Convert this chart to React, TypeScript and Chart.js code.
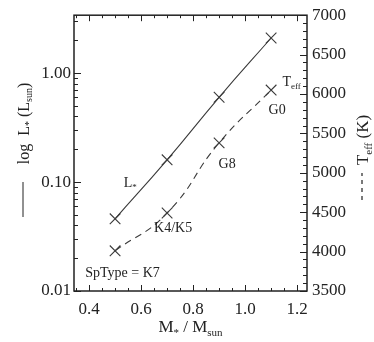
import React, { useEffect, useRef } from "react";
import { Chart, registerables } from "chart.js";

Chart.register(...registerables);

const masses = [0.5, 0.7, 0.9, 1.1];
const luminosity = [0.046, 0.16, 0.6, 2.1];
const teff = [4010, 4490, 5380, 6050];

const xTicks = [0.4, 0.6, 0.8, 1.0, 1.2];
const lumTicks = [0.01, 0.1, 1];
const teffTicks = [3500, 4000, 4500, 5000, 5500, 6000, 6500, 7000];

const noteLabels = ["L_*", "K4/K5", "G8", "G0", "T_eff", "SpType = K7"];
const noteMass = [0.558, 0.723, 0.931, 1.123, 1.179, 0.385];
const noteLum = [0.097, 0.0379, 0.145, 0.458, 0.823, 0.0145];
const noteAlign = ["center", "center", "center", "center", "center", "left"];

const FONT = "'Liberation Serif', 'Times New Roman', serif";
const INK = "#222";

type Part = { t: string; sub?: boolean };

function richWidth(ctx: CanvasRenderingContext2D, parts: Part[], size: number) {
  let w = 0;
  for (const p of parts) {
    ctx.font = `${p.sub ? Math.round(size * 0.62) : size}px ${FONT}`;
    w += ctx.measureText(p.t).width;
  }
  return w;
}

function drawRich(
  ctx: CanvasRenderingContext2D,
  parts: Part[],
  x: number,
  y: number,
  size: number,
  align: string
) {
  const w = richWidth(ctx, parts, size);
  let cx = align === "center" ? x - w / 2 : align === "right" ? x - w : x;
  ctx.textBaseline = "middle";
  ctx.textAlign = "left";
  for (const p of parts) {
    const s = p.sub ? Math.round(size * 0.62) : size;
    ctx.font = `${s}px ${FONT}`;
    ctx.fillText(p.t, cx, p.sub ? y + size * 0.28 : y);
    cx += ctx.measureText(p.t).width;
  }
}

function parseNote(s: string): Part[] {
  const i = s.indexOf("_");
  if (i < 0) return [{ t: s }];
  return [{ t: s.slice(0, i) }, { t: s.slice(i + 1), sub: true }];
}

const framePlugin = {
  id: "frameTicks",
  afterDatasetsDraw(chart: any) {
    const ctx: CanvasRenderingContext2D = chart.ctx;
    const a = chart.chartArea;
    const xs = chart.scales.x;
    const yl = chart.scales.y;
    const yr = chart.scales.y2;
    ctx.save();
    ctx.strokeStyle = INK;
    ctx.lineWidth = 1;
    for (let k = 7; k <= 24; k++) {
      const v = k * 0.05;
      if (v < xs.min || v > xs.max) continue;
      const px = Math.round(xs.getPixelForValue(v)) + 0.5;
      const major = k % 4 === 0;
      const len = major ? 6 : 3;
      ctx.beginPath();
      ctx.moveTo(px, a.bottom);
      ctx.lineTo(px, a.bottom - len);
      ctx.moveTo(px, a.top);
      ctx.lineTo(px, a.top + len);
      ctx.stroke();
    }
    for (let d = -2; d <= 0; d++) {
      for (let m = 1; m <= 9; m++) {
        const v = m * Math.pow(10, d);
        if (v < yl.min * 0.999 || v > yl.max) continue;
        const py = Math.round(yl.getPixelForValue(v)) + 0.5;
        const len = m === 1 ? 7 : 4;
        ctx.beginPath();
        ctx.moveTo(a.left, py);
        ctx.lineTo(a.left + len, py);
        ctx.stroke();
      }
    }
    for (let v = 3500; v <= 7000; v += 100) {
      const py = Math.round(yr.getPixelForValue(v)) + 0.5;
      const len = v % 500 === 0 ? 7 : 4;
      ctx.beginPath();
      ctx.moveTo(a.right, py);
      ctx.lineTo(a.right - len, py);
      ctx.stroke();
    }
    ctx.lineWidth = 1.5;
    ctx.strokeRect(a.left, a.top, a.right - a.left, a.bottom - a.top);

    ctx.fillStyle = INK;
    for (let i = 0; i < noteLabels.length; i++) {
      const px = xs.getPixelForValue(noteMass[i]);
      const py = yl.getPixelForValue(noteLum[i]);
      drawRich(ctx, parseNote(noteLabels[i]), px, py, 14, noteAlign[i]);
    }

    drawRich(
      ctx,
      [{ t: "M" }, { t: "*", sub: true }, { t: " / M" }, { t: "sun", sub: true }],
      (a.left + a.right) / 2,
      328,
      17,
      "center"
    );

    ctx.save();
    ctx.translate(25, 0);
    ctx.rotate(-Math.PI / 2);
    ctx.lineWidth = 1;
    ctx.beginPath();
    ctx.moveTo(-217, -2);
    ctx.lineTo(-182, -2);
    ctx.stroke();
    drawRich(
      ctx,
      [{ t: "log  L" }, { t: "*", sub: true }, { t: " (L" }, { t: "sun", sub: true }, { t: ")" }],
      -123.5,
      0,
      16,
      "center"
    );
    ctx.restore();

    ctx.save();
    ctx.translate(364, 0);
    ctx.rotate(-Math.PI / 2);
    ctx.lineWidth = 1.2;
    ctx.setLineDash([4, 4]);
    ctx.beginPath();
    ctx.moveTo(-200, -2);
    ctx.lineTo(-173, -2);
    ctx.stroke();
    ctx.setLineDash([]);
    drawRich(
      ctx,
      [{ t: "T" }, { t: "eff", sub: true }, { t: " (K)" }],
      -140,
      0,
      17,
      "center"
    );
    ctx.restore();

    ctx.restore();
  },
};

export default function App() {
  const ref = useRef<HTMLCanvasElement | null>(null);

  useEffect(() => {
    document.body.style.margin = "0";
    const canvas = ref.current!;
    const lineColor = "#3a3a3a";
    const chart = new Chart(canvas, {
      type: "line",
      data: {
        datasets: [
          {
            label: "L*",
            data: masses.map((m, i) => ({ x: m, y: luminosity[i] })),
            yAxisID: "y",
            borderColor: lineColor,
            borderWidth: 1.1,
            pointStyle: "crossRot",
            pointRadius: 7.5,
            pointBorderWidth: 1.1,
            pointBorderColor: lineColor,
            tension: 0.5,
            fill: false,
          },
          {
            label: "Teff",
            data: masses.map((m, i) => ({ x: m, y: teff[i] })),
            yAxisID: "y2",
            borderColor: lineColor,
            borderWidth: 1.1,
            borderDash: [7, 5],
            pointStyle: "crossRot",
            pointRadius: 7.5,
            pointBorderWidth: 1.1,
            pointBorderColor: lineColor,
            tension: 0.5,
            fill: false,
          },
        ],
      },
      options: {
        responsive: false,
        animation: false,
        devicePixelRatio: 1,
        layout: { padding: { top: 12, left: 0, right: 0, bottom: 0 } },
        plugins: { legend: { display: false }, tooltip: { enabled: false } },
        scales: {
          x: {
            type: "linear",
            position: "bottom",
            min: 0.342,
            max: 1.238,
            grid: { display: false, drawTicks: false, tickLength: 0 },
            border: { display: false },
            afterBuildTicks: (s: any) => {
              s.ticks = xTicks.map((v) => ({ value: v }));
            },
            afterFit: (s: any) => {
              s.height = 51;
            },
            ticks: {
              autoSkip: false,
              maxRotation: 0,
              padding: 8,
              color: INK,
              font: { family: FONT, size: 17 },
              callback: (v: any) => Number(v).toFixed(1),
            },
          },
          y: {
            type: "logarithmic",
            position: "left",
            min: 0.01,
            max: 3.4,
            grid: { display: false, drawTicks: false, tickLength: 0 },
            border: { display: false },
            afterBuildTicks: (s: any) => {
              s.ticks = lumTicks.map((v) => ({ value: v }));
            },
            afterFit: (s: any) => {
              s.width = 74;
            },
            ticks: {
              autoSkip: false,
              padding: 3,
              color: INK,
              font: { family: FONT, size: 17 },
              callback: (v: any) => Number(v).toFixed(2),
            },
          },
          y2: {
            type: "linear",
            position: "right",
            min: 3500,
            max: 7000,
            grid: { display: false, drawTicks: false, tickLength: 0 },
            border: { display: false },
            afterBuildTicks: (s: any) => {
              s.ticks = teffTicks.map((v) => ({ value: v }));
            },
            afterFit: (s: any) => {
              s.width = 67;
            },
            ticks: {
              autoSkip: false,
              padding: 5,
              color: INK,
              font: { family: FONT, size: 17 },
              callback: (v: any) => String(v),
            },
          },
        },
      } as any,
      plugins: [framePlugin],
    });
    return () => chart.destroy();
  }, []);

  return (
    <div style={{ width: 374, height: 342 }}>
      <canvas ref={ref} width={374} height={342} style={{ display: "block" }} />
    </div>
  );
}
